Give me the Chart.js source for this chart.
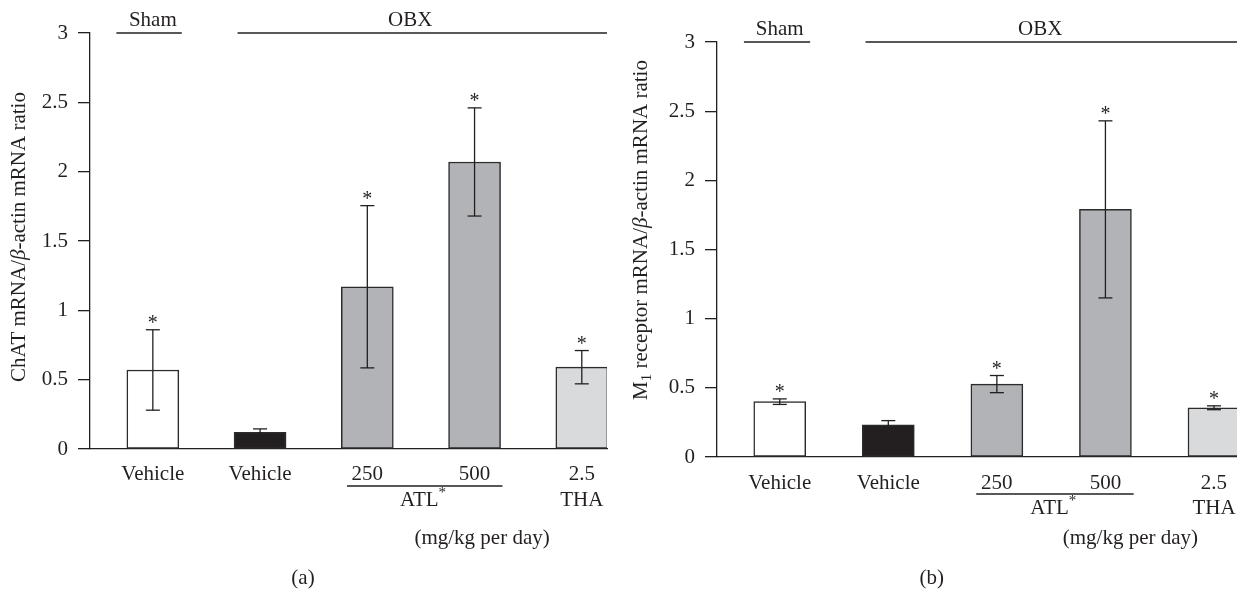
<!DOCTYPE html>
<html>
<head>
<meta charset="utf-8">
<script src="https://cdn.jsdelivr.net/npm/chart.js@4.4.0/dist/chart.umd.min.js"></script>
<style>
  body { margin: 0; background: #fff; }
  #wrap { position: relative; width: 1237px; height: 590px; }
  canvas { position: absolute; top: 0; }
</style>
</head>
<body>
<div id="wrap">
  <canvas id="chartA" width="620" height="590" style="left:0"></canvas>
  <canvas id="chartB" width="617" height="590" style="left:620px"></canvas>
</div>
<script>
var categories = ['Vehicle', 'Vehicle', '250', '500', '2.5'];
var barColors = ['#ffffff', '#231f20', '#b2b3b6', '#b2b3b6', '#d9dadb'];
var yTicks = [0, 0.5, 1, 1.5, 2, 2.5, 3];

// (a) ChAT mRNA
var chatMean = [0.57, 0.12, 1.17, 2.07, 0.59];
var chatErr = [0.29, 0.025, 0.585, 0.39, 0.12];
var chatStar = [true, false, true, true, true];

// (b) M1 receptor mRNA
var m1Mean = [0.40, 0.233, 0.527, 1.79, 0.356];
var m1Err = [0.02, 0.03, 0.062, 0.64, 0.014];
var m1Star = [true, false, true, true, true];

var ink = '#231f20';
var serif = '"Liberation Serif", "Times New Roman", serif';
var fs = 21;

function runFont(r) {
  return (r.it ? 'italic ' : '') + ((r.sub || r.sup) ? 15 : fs) + 'px ' + serif;
}

// draw text made of pieces (italic beta, subscript, superscript)
function drawRuns(c, runs, cx, cy, rotate) {
  c.save();
  c.translate(cx, cy);
  if (rotate) c.rotate(-Math.PI / 2);
  var total = 0;
  runs.forEach(function (r) {
    c.font = runFont(r);
    r.w = c.measureText(r.t).width;
    total += r.w;
  });
  var x = -total / 2;
  c.textBaseline = 'middle';
  c.textAlign = 'left';
  c.fillStyle = ink;
  runs.forEach(function (r) {
    c.font = runFont(r);
    var dy = r.sub ? 6 : (r.sup ? -7 : 0);
    c.fillText(r.t, x, dy);
    x += r.w;
  });
  c.restore();
}

function hline(c, x1, x2, y) {
  c.beginPath();
  c.moveTo(x1, y);
  c.lineTo(x2, y);
  c.stroke();
}

function decor(p) {
  return {
    id: 'decor_' + p.id,
    afterDraw: function (chart) {
      var c = chart.ctx;
      var xs = chart.scales.x, ys = chart.scales.y;
      var meta = chart.getDatasetMeta(0);
      var area = chart.chartArea;
      c.save();
      c.strokeStyle = ink;
      c.fillStyle = ink;
      c.lineWidth = 1.3;

      // error bars and asterisks
      p.mean.forEach(function (m, i) {
        var bx = meta.data[i].x;
        var top = ys.getPixelForValue(m + p.err[i]);
        var bot = ys.getPixelForValue(m - p.err[i]);
        c.beginPath();
        c.moveTo(bx, top);
        c.lineTo(bx, bot);
        c.stroke();
        hline(c, bx - 7, bx + 7, top);
        hline(c, bx - 7, bx + 7, bot);
        if (p.star[i]) {
          c.font = '20px ' + serif;
          c.textAlign = 'center';
          c.textBaseline = 'alphabetic';
          c.fillText('*', bx, top - 1);
        }
      });

      // Sham / OBX headers
      hline(c, xs.getPixelForValue(p.sham[0]), xs.getPixelForValue(p.sham[1]), area.top);
      hline(c, xs.getPixelForValue(p.obx[0]), xs.getPixelForValue(p.obx[1]), area.top);
      c.font = fs + 'px ' + serif;
      c.textAlign = 'center';
      c.textBaseline = 'alphabetic';
      c.fillText('Sham', xs.getPixelForValue(0), area.top - 7);
      c.fillText('OBX', xs.getPixelForValue(2.4), area.top - 7);

      // dose groups under the axis
      hline(c, xs.getPixelForValue(1.81), xs.getPixelForValue(3.26), area.bottom + 37);
      drawRuns(c, [{t: 'ATL'}, {t: '*', sup: true}], xs.getPixelForValue(2.52), area.bottom + 51, false);
      drawRuns(c, [{t: 'THA'}], xs.getPixelForValue(4), area.bottom + 51, false);
      drawRuns(c, [{t: '(mg/kg per day)'}], xs.getPixelForValue(p.unitX), 538, false);
      drawRuns(c, [{t: p.label}], xs.getPixelForValue(1.4), 578, false);

      // y axis title
      drawRuns(c, p.title, p.titleX, p.titleY, true);
      c.restore();
    }
  };
}

function buildPanel(p) {
  var ctx = document.getElementById(p.id);
  return new Chart(ctx, {
    type: 'bar',
    data: {
      datasets: [{
        data: p.mean.map(function (v, i) { return {x: i, y: v}; }),
        backgroundColor: barColors,
        borderColor: '#2b2b2b',
        borderWidth: 1.5,
        borderSkipped: false,
        barThickness: 52
      }]
    },
    options: {
      responsive: false,
      animation: false,
      devicePixelRatio: 1,
      layout: {padding: {left: 0, top: p.area.top, right: p.width - p.area.right, bottom: 0}},
      plugins: {legend: {display: false}, tooltip: {enabled: false}},
      scales: {
        x: {
          type: 'linear',
          min: p.xMin,
          max: p.xMax,
          offset: false,
          z: 1,
          grid: {display: false},
          border: {display: true, color: ink, width: 1.3},
          afterBuildTicks: function (s) {
            s.ticks = categories.map(function (c, i) { return {value: i}; });
          },
          afterFit: function (s) { s.height = 590 - p.area.bottom; },
          ticks: {
            color: ink,
            font: {family: serif, size: fs},
            padding: p.tickPad,
            maxRotation: 0,
            autoSkip: false,
            callback: function (v) { return categories[v]; }
          }
        },
        y: {
          min: 0,
          max: 3,
          afterBuildTicks: function (s) {
            s.ticks = yTicks.map(function (v) { return {value: v}; });
          },
          afterFit: function (s) { s.width = p.area.left; },
          grid: {drawOnChartArea: false, color: ink, lineWidth: 1.3, tickLength: 12},
          border: {color: ink, width: 1.3},
          ticks: {
            color: ink,
            font: {family: serif, size: fs},
            padding: 10,
            callback: function (v) { return String(v); }
          }
        }
      }
    },
    plugins: [decor(p)]
  });
}

buildPanel({
  id: 'chartA', width: 620,
  area: {left: 90, top: 33, right: 607, bottom: 449},
  xMin: -0.586, xMax: 4.235, tickPad: 5,
  mean: chatMean, err: chatErr, star: chatStar,
  sham: [-0.34, 0.27], obx: [0.79, 4.235], unitX: 3.07, label: '(a)',
  title: [{t: 'ChAT mRNA/'}, {t: 'β', it: true}, {t: '-actin mRNA ratio'}],
  titleX: 19, titleY: 237
});

buildPanel({
  id: 'chartB', width: 617,
  area: {left: 97, top: 42, right: 617, bottom: 457},
  xMin: -0.578, xMax: 4.212, tickPad: 6,
  mean: m1Mean, err: m1Err, star: m1Star,
  sham: [-0.33, 0.28], obx: [0.79, 4.212], unitX: 3.23, label: '(b)',
  title: [{t: 'M'}, {t: '1', sub: true}, {t: ' receptor mRNA/'}, {t: 'β', it: true}, {t: '-actin mRNA ratio'}],
  titleX: 21, titleY: 230
});
</script>
</body>
</html>
